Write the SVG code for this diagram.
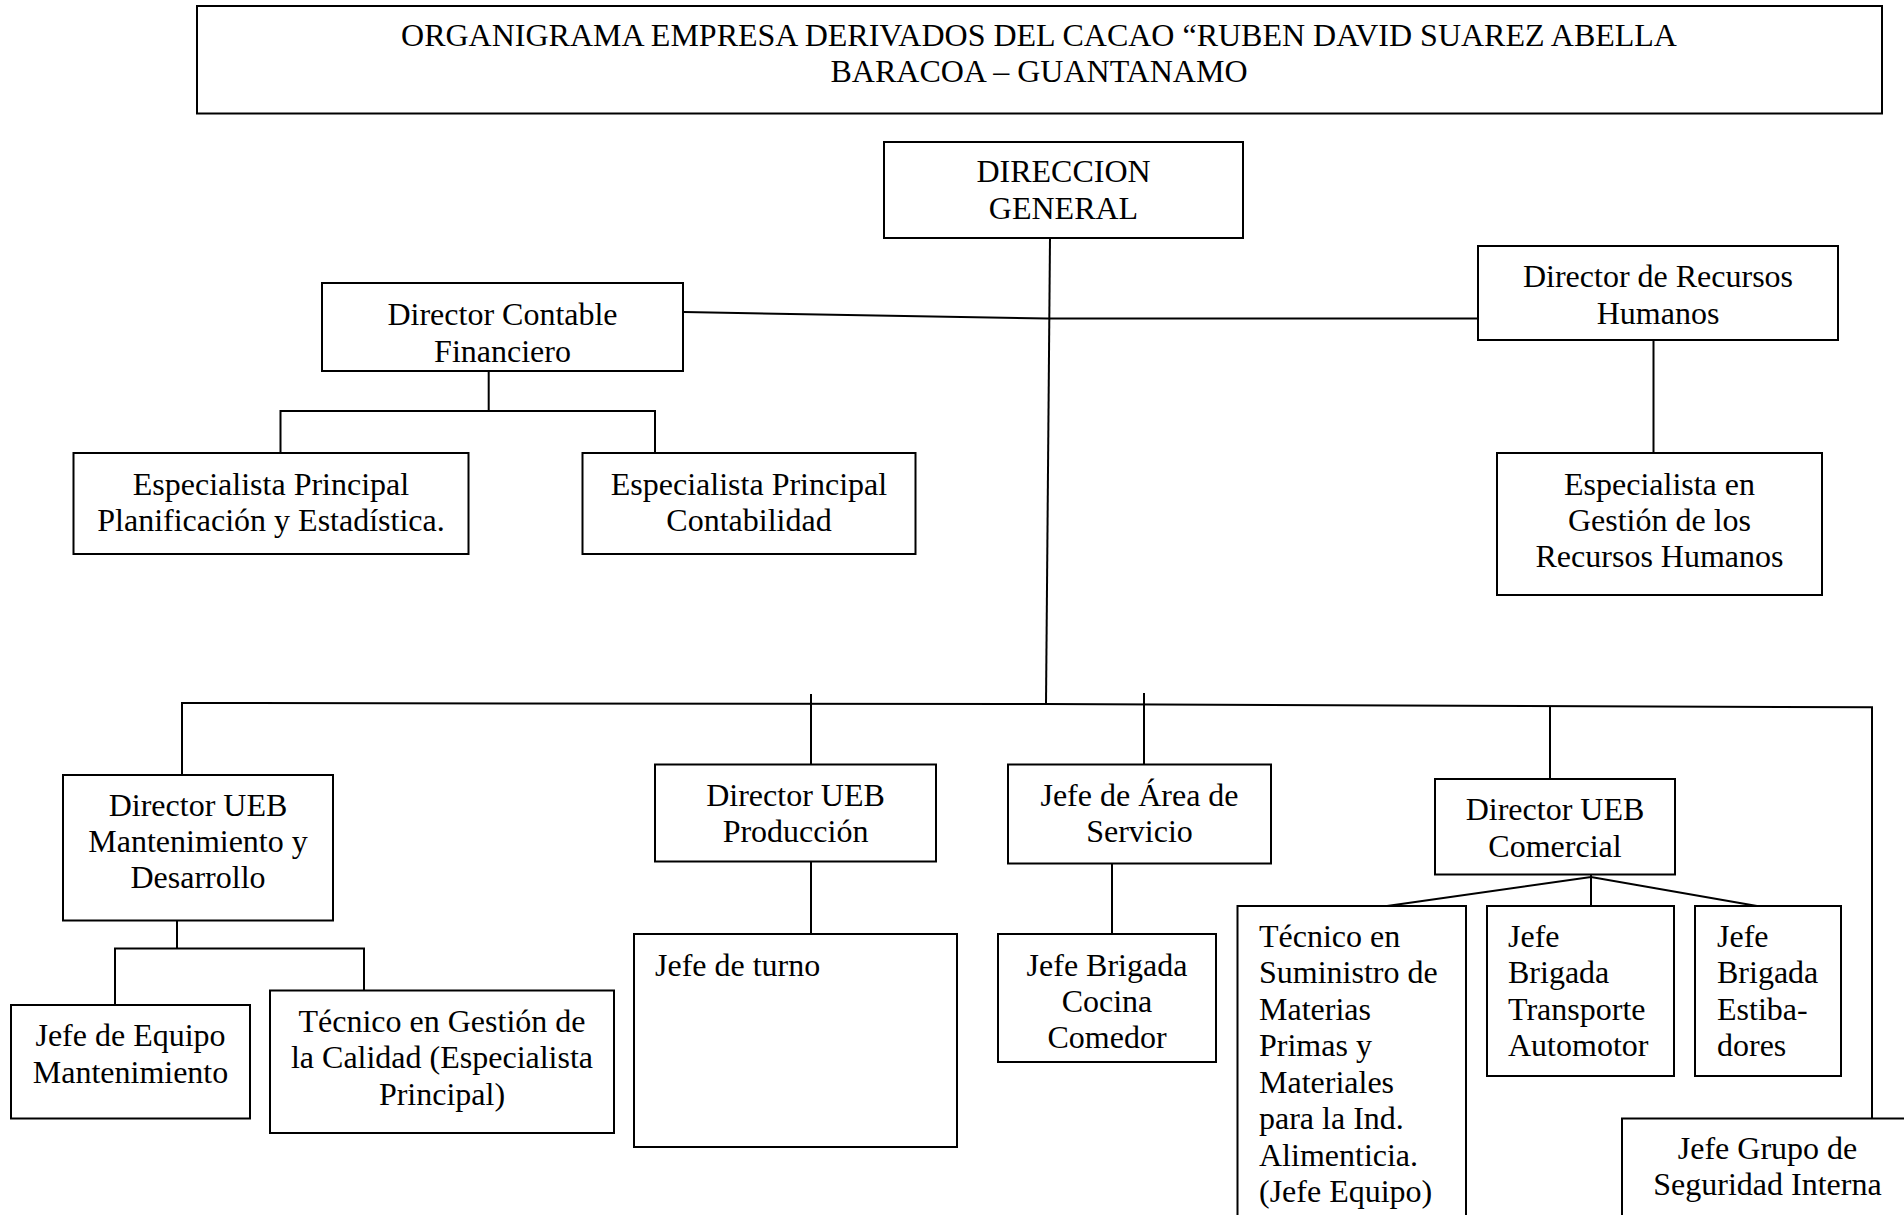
<svg xmlns="http://www.w3.org/2000/svg" width="1904" height="1215" viewBox="0 0 1904 1215">
<style>
rect{fill:#fff;stroke:#000;stroke-width:2}
text{font-family:"Liberation Serif","Times New Roman",serif;font-size:32px;fill:#000}
.c{text-anchor:middle}
.l{text-anchor:start}
#connectors path{fill:none;stroke:#000;stroke-width:2}
</style>
<rect x="0" y="0" width="1904" height="1215" style="stroke:none;fill:#fff"/>
<g id="title">
<rect x="197" y="6" width="1685" height="107.5"/>
<text class="c" x="1039" y="46">ORGANIGRAMA EMPRESA DERIVADOS DEL CACAO “RUBEN DAVID SUAREZ ABELLA</text>
<text class="c" x="1039" y="82">BARACOA – GUANTANAMO</text>
</g>
<g id="connectors">
<path d="M1050,238 L1046,704"/>
<path d="M684,312 L1047,318.5 L1478,318.5"/>
<path d="M1653.5,340 V453"/>
<path d="M488.7,371 V411 M280.5,453 V411 H655 V453"/>
<path d="M182,775 V703 L1046,704 L1872,707.3 V1118.5"/>
<path d="M811,694 V764.5 M1144,693 V764.5 M1550,706.5 V779"/>
<path d="M811,861.5 V934 M1112,863.5 V934"/>
<path d="M177,920.5 V948.6 M115,1005 V948.6 H364 V990.5"/>
<path d="M1591,874.5 V877 M1387,906 L1591,877 L1757,906 M1591,877 V906"/>
</g>
<g id="n_dg">
<rect x="884" y="142" width="359" height="96"/>
<text class="c" x="1063.5" y="182">DIRECCION</text>
<text class="c" x="1063.5" y="218.5">GENERAL</text>
</g>
<g id="n_dcf">
<rect x="322" y="283" width="361" height="88"/>
<text class="c" x="502.5" y="325">Director Contable</text>
<text class="c" x="502.5" y="361.5">Financiero</text>
</g>
<g id="n_drh">
<rect x="1478" y="246" width="360" height="94"/>
<text class="c" x="1658" y="287">Director de Recursos</text>
<text class="c" x="1658" y="323.5">Humanos</text>
</g>
<g id="n_epe">
<rect x="73.5" y="453" width="395" height="101"/>
<text class="c" x="271" y="495">Especialista Principal</text>
<text class="c" x="271" y="531">Planificación y Estadística.</text>
</g>
<g id="n_epc">
<rect x="582.5" y="453" width="333" height="101"/>
<text class="c" x="749" y="495">Especialista Principal</text>
<text class="c" x="749" y="531">Contabilidad</text>
</g>
<g id="n_egrh">
<rect x="1497" y="453" width="325" height="142"/>
<text class="c" x="1659.5" y="495">Especialista en</text>
<text class="c" x="1659.5" y="531">Gestión de los</text>
<text class="c" x="1659.5" y="567">Recursos Humanos</text>
</g>
<g id="n_ueb_mant">
<rect x="63" y="775" width="270" height="145.5"/>
<text class="c" x="198" y="816">Director UEB</text>
<text class="c" x="198" y="852">Mantenimiento y</text>
<text class="c" x="198" y="888">Desarrollo</text>
</g>
<g id="n_jem">
<rect x="11" y="1005" width="239" height="113.5"/>
<text class="c" x="130.5" y="1046">Jefe de Equipo</text>
<text class="c" x="130.5" y="1082.5">Mantenimiento</text>
</g>
<g id="n_tgc">
<rect x="270" y="990.5" width="344" height="142.5"/>
<text class="c" x="442" y="1031.5">Técnico en Gestión de</text>
<text class="c" x="442" y="1068">la Calidad (Especialista</text>
<text class="c" x="442" y="1104.5">Principal)</text>
</g>
<g id="n_ueb_prod">
<rect x="655" y="764.5" width="281" height="97"/>
<text class="c" x="795.5" y="806">Director UEB</text>
<text class="c" x="795.5" y="842">Producción</text>
</g>
<g id="n_jt">
<rect x="634" y="934" width="323" height="213"/>
<text class="l" x="655" y="975.5">Jefe de turno</text>
</g>
<g id="n_jas">
<rect x="1008" y="764.5" width="263" height="99"/>
<text class="c" x="1139.5" y="806">Jefe de Área de</text>
<text class="c" x="1139.5" y="842">Servicio</text>
</g>
<g id="n_jbc">
<rect x="998" y="934" width="218" height="128"/>
<text class="c" x="1107" y="975.5">Jefe Brigada</text>
<text class="c" x="1107" y="1012">Cocina</text>
<text class="c" x="1107" y="1048">Comedor</text>
</g>
<g id="n_ueb_com">
<rect x="1435" y="779" width="240" height="95.5"/>
<text class="c" x="1555" y="820">Director UEB</text>
<text class="c" x="1555" y="856.5">Comercial</text>
</g>
<g id="n_tsm">
<rect x="1237.5" y="906" width="228.5" height="340"/>
<text class="l" x="1259" y="946.5">Técnico en</text>
<text class="l" x="1259" y="983">Suministro de</text>
<text class="l" x="1259" y="1019.5">Materias</text>
<text class="l" x="1259" y="1056">Primas y</text>
<text class="l" x="1259" y="1092.5">Materiales</text>
<text class="l" x="1259" y="1129">para la Ind.</text>
<text class="l" x="1259" y="1165.5">Alimenticia.</text>
<text class="l" x="1259" y="1202">(Jefe Equipo)</text>
</g>
<g id="n_jbt">
<rect x="1487" y="906" width="187" height="170"/>
<text class="l" x="1508" y="946.5">Jefe</text>
<text class="l" x="1508" y="983">Brigada</text>
<text class="l" x="1508" y="1019.5">Transporte</text>
<text class="l" x="1508" y="1056">Automotor</text>
</g>
<g id="n_jbe">
<rect x="1695" y="906" width="146" height="170"/>
<text class="l" x="1717" y="946.5">Jefe</text>
<text class="l" x="1717" y="983">Brigada</text>
<text class="l" x="1717" y="1019.5">Estiba-</text>
<text class="l" x="1717" y="1056">dores</text>
</g>
<g id="n_jgs">
<rect x="1622" y="1118.5" width="300" height="130"/>
<text class="c" x="1767.5" y="1158.5">Jefe Grupo de</text>
<text class="c" x="1767.5" y="1195">Seguridad Interna</text>
</g>
</svg>
